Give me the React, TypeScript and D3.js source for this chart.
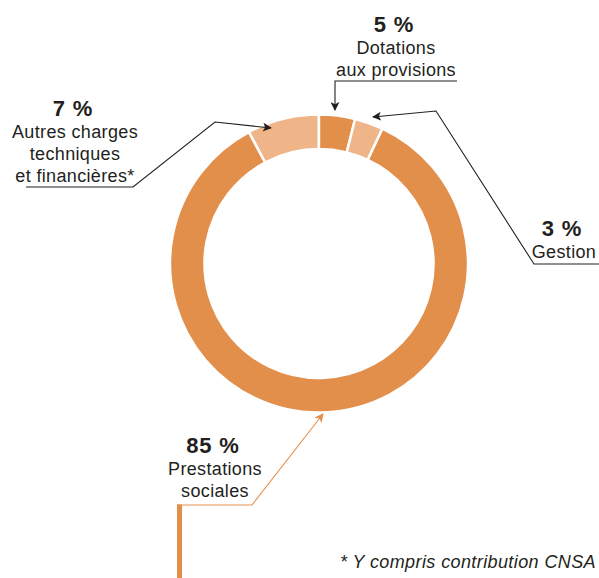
import * as d3 from 'd3'
import { useEffect, useRef } from 'react'

const categories = ['Autres charges techniques et financières', 'Dotations aux provisions', 'Gestion', 'Prestations sociales']
const shares = [7.8, 3.9, 3.1, 85.2]
const pctLabels = ['7 %', '5 %', '3 %', '85 %']
const nameLines = [
  ['Autres charges', 'techniques', 'et financières*'],
  ['Dotations', 'aux provisions'],
  ['Gestion'],
  ['Prestations', 'sociales']
]
const shades = ['light', 'dark', 'light', 'dark']
const footnote = '* Y compris contribution CNSA'

const W = 599
const H = 578
const DARK = '#e38f4c'
const LIGHT = '#efb488'
const INK = '#231f20'

// label blocks and leader lines
const layout = [
  { x: 74, y: 116, color: INK, path: [[26, 187], [133, 187], [215, 122], [271, 128]] },
  { x: 395, y: 32, color: INK, path: [[457, 81], [335, 81], [335, 110]] },
  { x: 563, y: 236, color: INK, path: [[599, 264], [534, 264], [436, 111], [373, 117]] },
  { x: 214, y: 453, color: DARK, path: [[177, 505], [252, 505], [323, 414]] }
]

export default function App() {
  const ref = useRef<SVGSVGElement>(null)

  useEffect(() => {
    const svg = d3.select(ref.current)
    svg.selectAll('*').remove()

    const cx = 319
    const cy = 263.5
    const outer = 149
    const inner = 114.5
    const start = (-28.1 * Math.PI) / 180

    const defs = svg.append('defs')
    ;[['ink', INK], ['org', DARK]].forEach(([id, c]) => {
      defs
        .append('marker')
        .attr('id', `arrow-${id}`)
        .attr('viewBox', '0 0 10 10')
        .attr('refX', 9)
        .attr('refY', 5)
        .attr('markerWidth', 9)
        .attr('markerHeight', 9)
        .attr('markerUnits', 'userSpaceOnUse')
        .attr('orient', 'auto')
        .append('path')
        .attr('d', 'M0,0 L10,5 L0,10 L2.5,5 Z')
        .attr('fill', c)
    })

    const pie = d3
      .pie<number>()
      .sort(null)
      .value((d) => d)
      .startAngle(start)
      .endAngle(start + 2 * Math.PI)
    const arc = d3.arc<d3.PieArcDatum<number>>().innerRadius(inner).outerRadius(outer)

    svg
      .append('g')
      .attr('transform', `translate(${cx},${cy})`)
      .selectAll('path')
      .data(pie(shares))
      .enter()
      .append('path')
      .attr('d', arc)
      .attr('fill', (d, i) => (shades[i] === 'dark' ? DARK : LIGHT))
      .attr('stroke', '#fff')
      .attr('stroke-width', 2.5)
      .append('title')
      .text((d, i) => categories[i])

    const line = d3.line()

    // thick bar under prestations label
    svg
      .append('line')
      .attr('x1', 179.5)
      .attr('x2', 179.5)
      .attr('y1', 504.5)
      .attr('y2', H)
      .attr('stroke', DARK)
      .attr('stroke-width', 5)

    layout.forEach((l, i) => {
      svg
        .append('path')
        .attr('d', line(l.path as [number, number][]))
        .attr('fill', 'none')
        .attr('stroke', l.color)
        .attr('stroke-width', 1.1)
        .attr('marker-end', `url(#arrow-${l.color === INK ? 'ink' : 'org'})`)

      const g = svg
        .append('g')
        .attr('font-family', '"Liberation Sans", Arial, sans-serif')
        .attr('fill', INK)
        .attr('text-anchor', 'middle')

      g.append('text')
        .attr('x', l.x - 1)
        .attr('y', l.y)
        .attr('font-size', 22)
        .attr('font-weight', 'bold')
        .style('letter-spacing', '0.8px')
        .text(pctLabels[i])

      nameLines[i].forEach((t, j) => {
        g.append('text')
          .attr('x', l.x + 1)
          .attr('y', l.y + 22 * (j + 1))
          .attr('font-size', 18)
          .style('letter-spacing', '0.35px')
          .text(t)
      })
    })

    svg
      .append('text')
      .attr('x', 596)
      .attr('y', 568)
      .attr('text-anchor', 'end')
      .attr('font-family', '"Liberation Sans", Arial, sans-serif')
      .attr('font-style', 'italic')
      .attr('font-size', 18)
      .style('letter-spacing', '0.4px')
      .attr('fill', INK)
      .text(footnote)
  }, [])

  return (
    <svg
      ref={ref}
      width={W}
      height={H}
      style={{ position: 'absolute', left: 0, top: 0, background: '#fff' }}
    />
  )
}
